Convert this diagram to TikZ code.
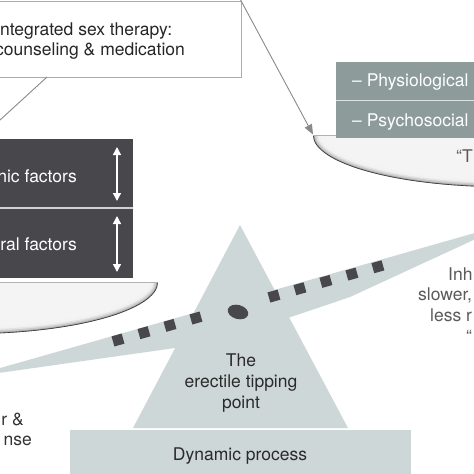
\documentclass[tikz,border=0pt]{standalone}
\usepackage{fontspec}
\setmainfont{TeX Gyre Heros}
\usetikzlibrary{arrows.meta,calc}
\definecolor{beamc}{HTML}{CED7D7}
\definecolor{darkbox}{HTML}{48484C}
\definecolor{midbox}{HTML}{8E9B9B}
\definecolor{txtdark}{HTML}{2A2A2A}
\definecolor{txtgray}{HTML}{5A5A5A}
\definecolor{panfill}{HTML}{F4F4F4}
\definecolor{linegray}{HTML}{8A8A8A}
\tikzset{
  lbl/.style={font=\fontsize{17.5}{21}\selectfont, inner sep=0pt, text=txtdark},
  graylbl/.style={lbl, text=txtgray},
  whitelbl/.style={lbl, text=white},
  sqline/.style={darkbox, line width=10.5pt, dash pattern=on 10.5pt off 16.5pt},
  dblarrow/.style={white, line width=1.3pt, {Triangle[width=8pt,length=8pt]}-{Triangle[width=8pt,length=8pt]}},
}
\begin{document}
\begin{tikzpicture}[x=1pt,y=-1pt]
\useasboundingbox (0,0) rectangle (474,474);
\clip (0,0) rectangle (474,474);
\fill[white] (0,0) rectangle (474,474);

% fulcrum, beam, base
\fill[beamc] (240,225) -- (348,428) -- (133,428) -- cycle;
\fill[beamc] (-5,369.5) -- (480,231.5) -- (480,237) -- (350,297) -- (288,318) -- (240,330) -- (175,348) -- (-5,373.5) -- cycle;
\fill[beamc] (70,430) rectangle (411,480);

% squares and fulcrum point
\coordinate (sqA) at (118,340);
\coordinate (sqB) at (377.9,266.75);
\draw[sqline] ($(sqA)!-0.01944!(sqB)$) -- ($(sqA)!0.31944!(sqB)$);
\draw[sqline] ($(sqA)!0.58056!(sqB)$) -- ($(sqA)!1.01944!(sqB)$);
\fill[darkbox, rotate around={-16:(238,312)}] (238,312) ellipse [x radius=10.5, y radius=7];

% left pan
\fill[panfill] (158,282) arc[start angle=0,end angle=90,x radius=190,y radius=52] -- (-32,282) -- cycle;
\begin{scope}
\clip (158,282) arc[start angle=0,end angle=90,x radius=190,y radius=52] -- (-32,282) -- cycle;
\foreach \w/\c in {14/gray!10, 9/gray!22, 6/gray!40, 3/gray!65, 1.2/black!80}
  \draw[line width=\w pt, color=\c] (158,282) arc[start angle=0,end angle=90,x radius=190,y radius=52];
\end{scope}
\draw[gray!60, line width=0.8pt] (-5,282) -- (158,282);

% left dark boxes
\fill[darkbox] (-5,139) rectangle (133,278);
\draw[white!75!darkbox, line width=1.5pt] (-5,208) -- (133,208);
\draw[dblarrow] (117,147) -- (117,201);
\draw[dblarrow] (117,216) -- (117,272);
\node[whitelbl, anchor=base east] (organic) at (77,182.7) {nic factors};
\node[whitelbl, anchor=base east] (behav) at (77,250) {ral factors};

% right pan
\fill[panfill] (313,135) arc[start angle=180,end angle=90,x radius=190,y radius=52] -- (503,135) -- cycle;
\begin{scope}
\clip (313,135) arc[start angle=180,end angle=90,x radius=190,y radius=52] -- (503,135) -- cycle;
\foreach \w/\c in {14/gray!10, 9/gray!22, 6/gray!40, 3/gray!65, 1.2/black!80}
  \draw[line width=\w pt, color=\c] (313,135) arc[start angle=180,end angle=90,x radius=190,y radius=52];
\end{scope}
\draw[gray!60, line width=0.8pt] (313,135) -- (480,135);

% right boxes
\fill[midbox] (336,62) rectangle (480,138);
\draw[white!70!midbox, line width=1.2pt] (336,100.5) -- (480,100.5);
\node[whitelbl, anchor=base west] (physio) at (352,86.7) {– Physiological};
\node[whitelbl, anchor=base west] (psycho) at (352,126) {– Psychosocial};
\node[graylbl, anchor=base west] (quoteT) at (456,162.7) {“T};

% top box
\node[draw=gray!65, line width=0.9pt, fill=white, anchor=north west, minimum width=251pt, minimum height=76pt, inner sep=0pt] (topbox) at (-10,1) {};
\node[lbl, text=black!85, anchor=base west] (top1) at (-5,35) {Integrated sex therapy:};
\node[lbl, text=black!85, anchor=base west] (top2) at (-5,55) {counseling \& medication};
\coordinate (boxfoot) at (47,77);
\coordinate (leftout) at (-5,124.6);
\coordinate (boxcorner) at (239,-3);
\coordinate (rpantip) at (313,134.5);
\draw[linegray, line width=0.9pt] (boxfoot) -- (leftout);
\draw[linegray, line width=0.9pt, -{Triangle[length=10pt,width=8pt]}] (boxcorner) -- (rpantip);

% center labels
\node[lbl, anchor=base] (the1) at (241,366) {The};
\node[lbl, anchor=base] (the2) at (241,387) {erectile tipping};
\node[lbl, anchor=base] (the3) at (241,408) {point};
\node[lbl, anchor=base] (dyn) at (240,460) {Dynamic process};

% right side text
\node[graylbl, anchor=base west] (r1) at (448,280) {Inh};
\node[graylbl, anchor=base west] (r2) at (418,300.7) {slower,};
\node[graylbl, anchor=base west] (r3) at (430,321.7) {less r};
\node[graylbl, anchor=base west] (r4) at (466,342) {“};

% left bottom text
\node[lbl, text=black!80, anchor=base east] (l1) at (24,425.7) {r \&};
\node[lbl, text=black!80, anchor=base east] (l2) at (32,445.7) {nse};
\end{tikzpicture}
\end{document}
